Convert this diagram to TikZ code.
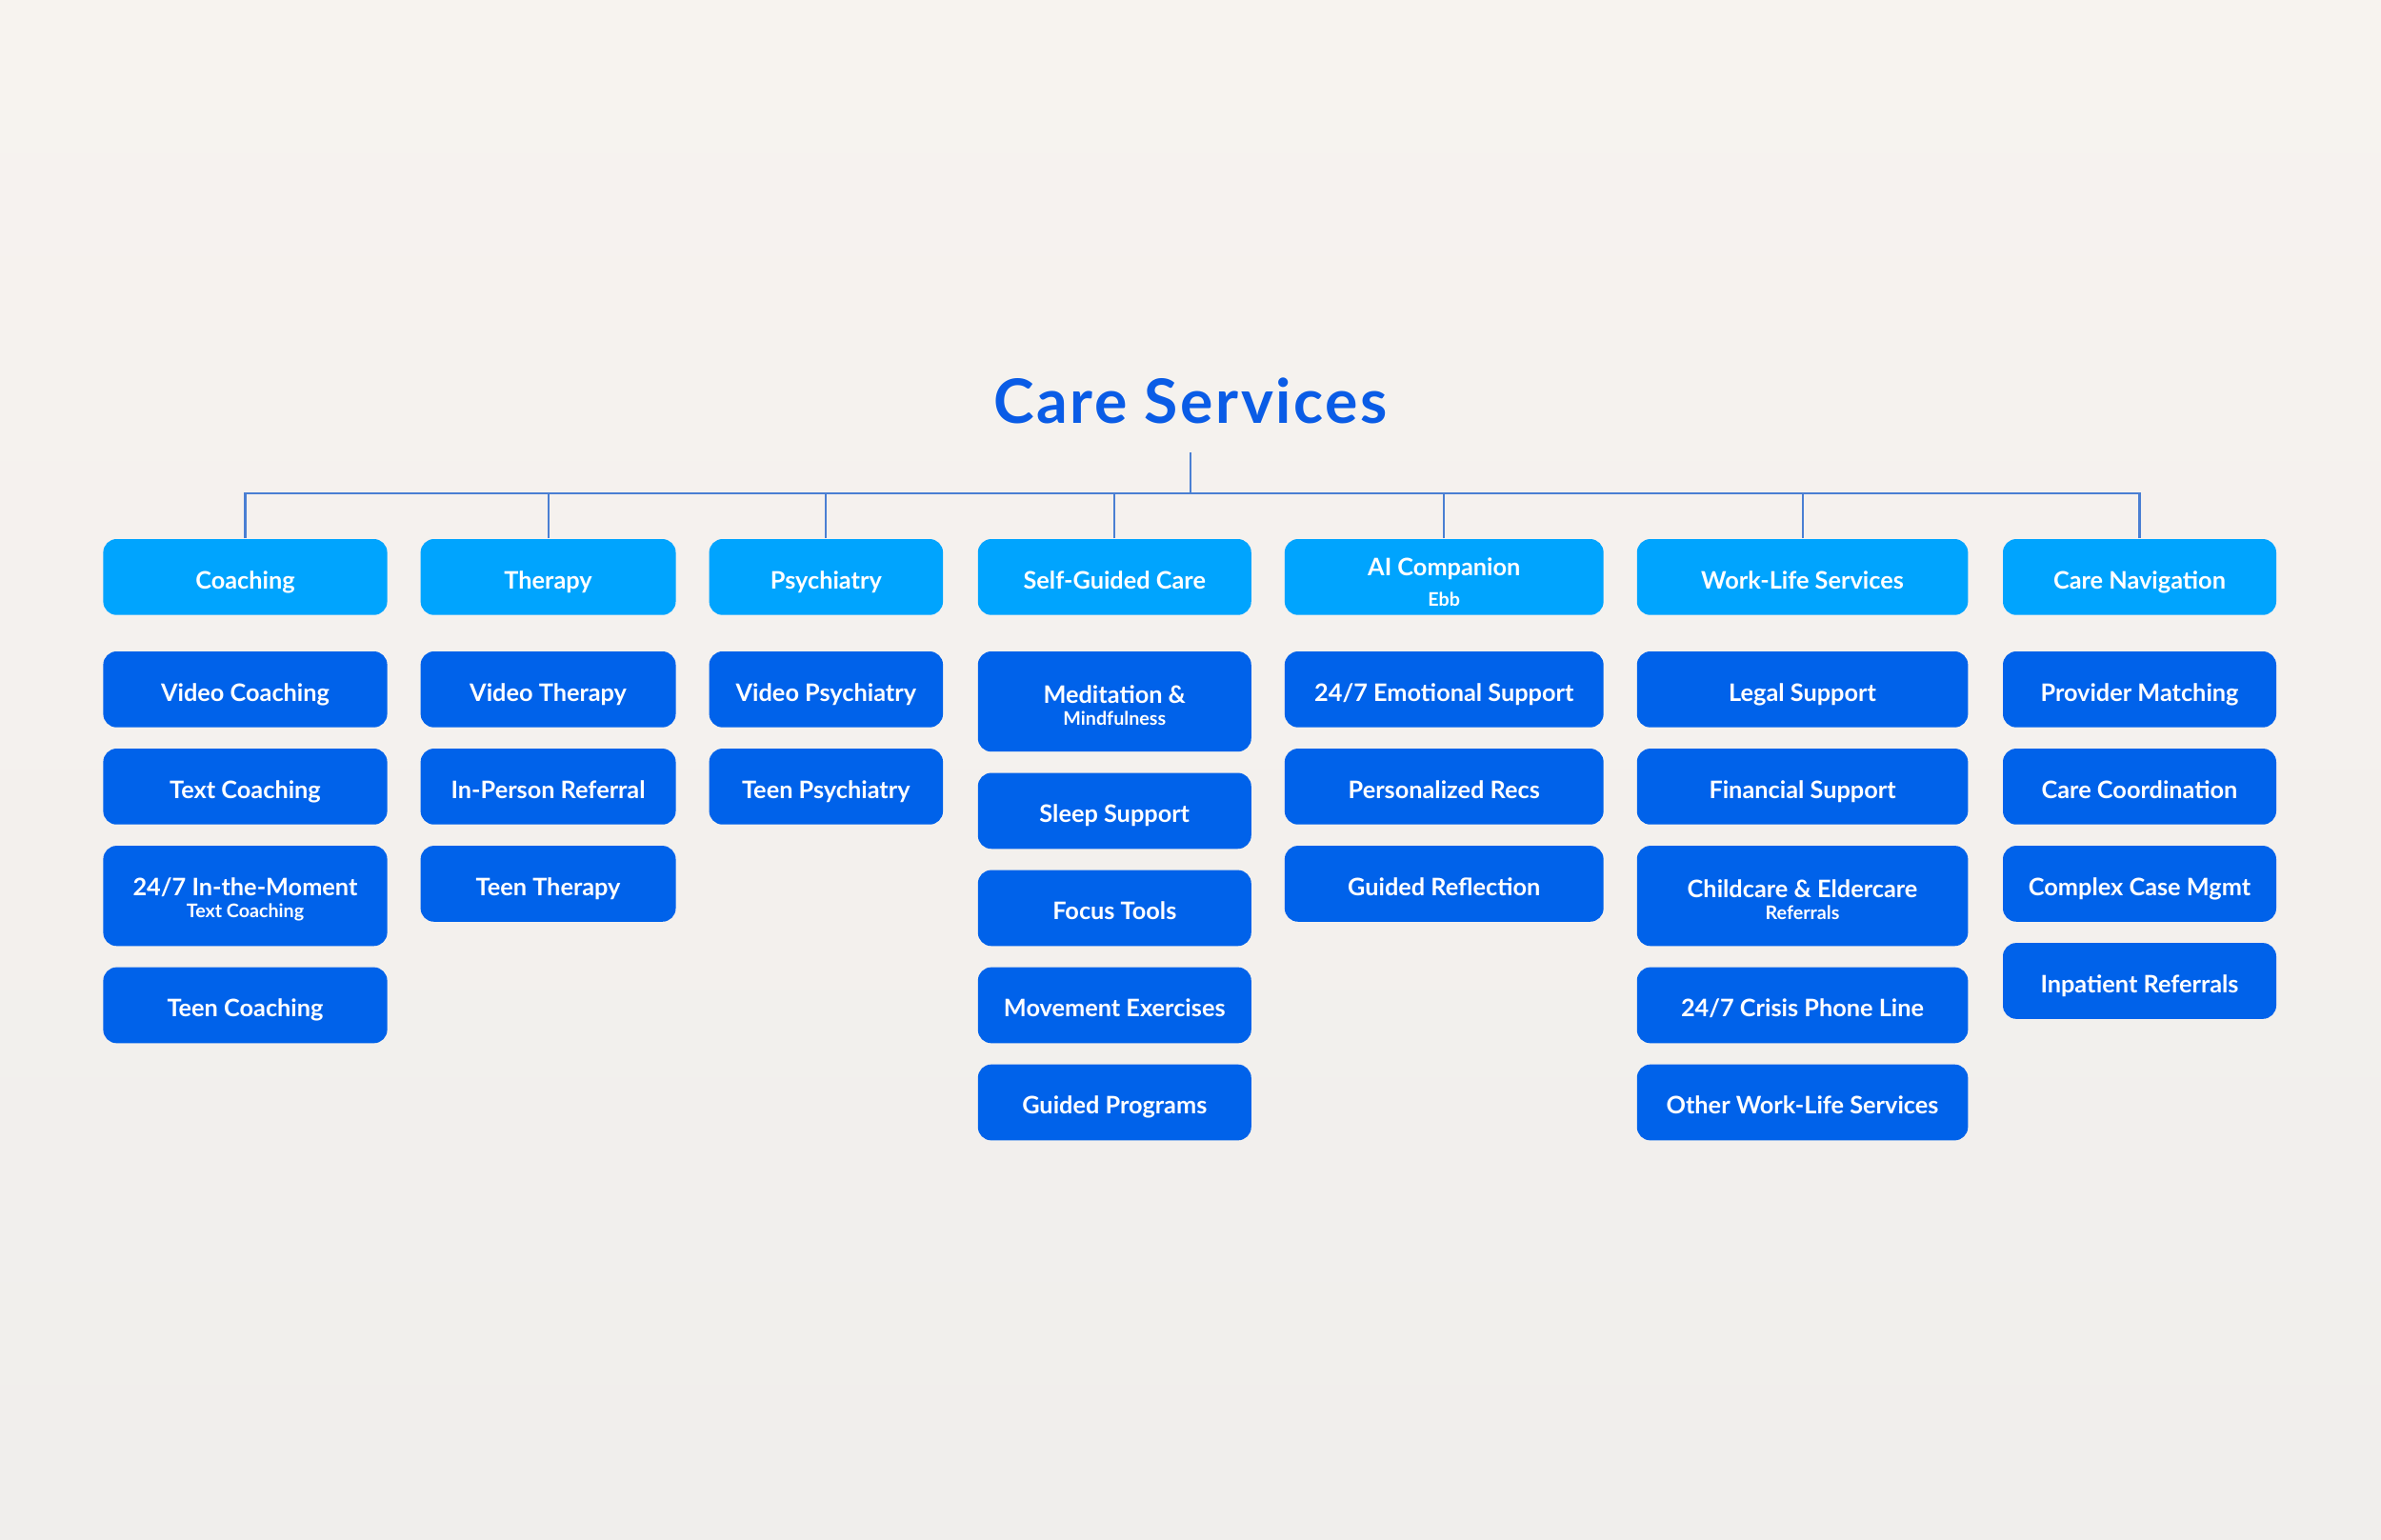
\documentclass[tikz,border=0pt]{standalone}
\usepackage{fontspec}
\setmainfont{Lato}
\usepackage{tikz}
\usetikzlibrary{calc}
\definecolor{catblue}{HTML}{00A4FE}
\definecolor{itemblue}{HTML}{0062EA}
\definecolor{titleblue}{HTML}{0A5CE6}
\definecolor{linkblue}{HTML}{4A7FD3}
\definecolor{bgtop}{HTML}{F7F3EF}
\definecolor{bgbot}{HTML}{F0EEEC}
\def\sub[#1]#2{\\[#1]{\fontsize{5.6}{6}\selectfont #2}}

\begin{document}
\begin{tikzpicture}[x=0.015944cm, y=-0.015944cm,
	basebox/.style={text=white, rounded corners=4pt, minimum height=0.797cm,
		inner sep=0pt, align=center, font=\bfseries\fontsize{7.2}{8}\selectfont},
	oneline/.style={text height=7pt, text depth=0pt},
	catbox/.style={basebox, oneline, fill=catblue},
	cattwo/.style={basebox, text height=17.6pt, fill=catblue},
	itembox/.style={basebox, oneline, fill=itemblue},
	tallbox/.style={basebox, text height=14pt, fill=itemblue, minimum height=1.052cm},
	link/.style={draw=linkblue, line width=0.6pt}]
			%%%%% BACKGROUND %%%%%
			
			\shade[top color=bgtop, bottom color=bgbot] (0, 0) rectangle (1568, 1013.6);
			\useasboundingbox (0, 0) rectangle (1568, 1013.6);
			
			\node[anchor=base, inner xsep=0pt, inner ysep=0.29cm, text=titleblue,
				font=\bfseries\fontsize{18.3}{20}\selectfont\addfontfeature{LetterSpace=4}] (ttl) at (784, 279) {Care Services};
			
			%%%%% CATEGORIES %%%%%
			
			\node[catbox, minimum width=2.982cm] (coach) at (161.5, 380) {Coaching};
			\node[catbox, minimum width=2.679cm] (ther) at (361, 380) {Therapy};
			\node[catbox, minimum width=2.455cm] (psych) at (544, 380) {Psychiatry};
			\node[catbox, minimum width=2.870cm] (self) at (734, 380) {Self-Guided Care};
			\node[cattwo, minimum width=3.348cm] (ai) at (951, 380) {AI Companion\sub[1.2pt]{Ebb}};
			\node[catbox, minimum width=3.476cm] (work) at (1187, 380) {Work-Life Services};
			\node[catbox, minimum width=2.870cm] (nav) at (1409, 380) {Care Navigation};
			
			\coordinate (bus) at (784, 325);
			\draw[link] (ttl.south) -- (bus);
			\draw[link] (coach.north) |- (bus);
			\draw[link] (ther.north) |- (bus);
			\draw[link] (psych.north) |- (bus);
			\draw[link] (self.north) |- (bus);
			\draw[link] (ai.north) |- (bus);
			\draw[link] (work.north) |- (bus);
			\draw[link] (nav.north) |- (bus);
			
			%%%%% COACHING %%%%%
			
			\node[itembox, minimum width=2.982cm] (coach1) at (161.5, 454) {Video Coaching};
			\node[itembox, minimum width=2.982cm] (coach2) at (161.5, 518) {Text Coaching};
			\node[tallbox, minimum width=2.982cm] (coach3) at (161.5, 590) {24/7 In-the-Moment\sub[-1.5pt]{Text Coaching}};
			\node[itembox, minimum width=2.982cm] (coach4) at (161.5, 662) {Teen Coaching};
			
			%%%%% THERAPY %%%%%
			
			\node[itembox, minimum width=2.679cm] (ther1) at (361, 454) {Video Therapy};
			\node[itembox, minimum width=2.679cm] (ther2) at (361, 518) {In-Person Referral};
			\node[itembox, minimum width=2.679cm] (ther3) at (361, 582) {Teen Therapy};
			
			%%%%% PSYCHIATRY %%%%%
			
			\node[itembox, minimum width=2.455cm] (psych1) at (544, 454) {Video Psychiatry};
			\node[itembox, minimum width=2.455cm] (psych2) at (544, 518) {Teen Psychiatry};
			
			%%%%% SELF-GUIDED CARE %%%%%
			
			\node[tallbox, minimum width=2.870cm] (self1) at (734, 462) {Meditation \&\sub[-1.5pt]{Mindfulness}};
			\node[itembox, minimum width=2.870cm] (self2) at (734, 534) {Sleep Support};
			\node[itembox, minimum width=2.870cm] (self3) at (734, 598) {Focus Tools};
			\node[itembox, minimum width=2.870cm] (self4) at (734, 662) {Movement Exercises};
			\node[itembox, minimum width=2.870cm] (self5) at (734, 726) {Guided Programs};
			
			%%%%% AI COMPANION %%%%%
			
			\node[itembox, minimum width=3.348cm] (ai1) at (951, 454) {24/7 Emotional Support};
			\node[itembox, minimum width=3.348cm] (ai2) at (951, 518) {Personalized Recs};
			\node[itembox, minimum width=3.348cm] (ai3) at (951, 582) {Guided Reflection};
			
			%%%%% WORK-LIFE SERVICES %%%%%
			
			\node[itembox, minimum width=3.476cm] (work1) at (1187, 454) {Legal Support};
			\node[itembox, minimum width=3.476cm] (work2) at (1187, 518) {Financial Support};
			\node[tallbox, minimum width=3.476cm] (work3) at (1187, 590) {Childcare \& Eldercare\sub[-1.5pt]{Referrals}};
			\node[itembox, minimum width=3.476cm] (work4) at (1187, 662) {24/7 Crisis Phone Line};
			\node[itembox, minimum width=3.476cm] (work5) at (1187, 726) {Other Work-Life Services};
			
			%%%%% CARE NAVIGATION %%%%%
			
			\node[itembox, minimum width=2.870cm] (nav1) at (1409, 454) {Provider Matching};
			\node[itembox, minimum width=2.870cm] (nav2) at (1409, 518) {Care Coordination};
			\node[itembox, minimum width=2.870cm] (nav3) at (1409, 582) {Complex Case Mgmt};
			\node[itembox, minimum width=2.870cm] (nav4) at (1409, 646) {Inpatient Referrals};
			
		\end{tikzpicture}
\end{document}
